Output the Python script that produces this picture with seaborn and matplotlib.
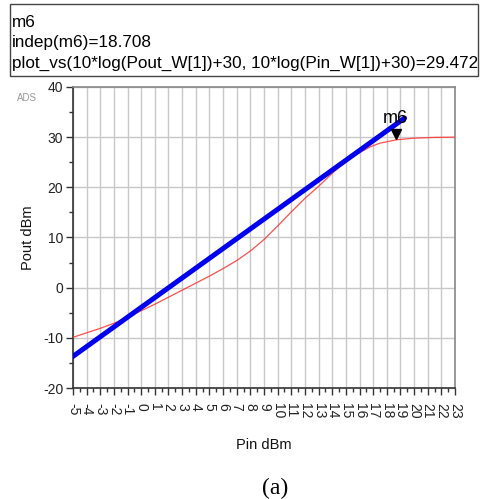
import numpy as np
import pandas as pd
import seaborn as sns
import matplotlib
matplotlib.use("Agg")
import matplotlib.pyplot as plt
from matplotlib.ticker import MultipleLocator
from matplotlib.transforms import offset_copy

# simulated output power (red)
pin_sim = [-5, -4, -3, -2, -1, 0, 1, 2, 3, 4, 5, 6, 7, 8, 9, 10, 11, 12, 13, 14,
           14.5, 15.0, 15.8, 16.8, 17.5, 18.7, 20.0, 21.5, 23.0]
pout_sim = [-9.9, -9.0, -8.1, -7.1, -5.9, -4.6, -3.3, -1.9, -0.5, 0.9, 2.3, 3.8, 5.4,
            7.3, 9.6, 12.3, 15.1, 17.8, 20.2, 22.8,
            24.0, 25.1, 26.6, 28.1, 28.8, 29.47, 29.8, 29.95, 30.0]

# linear gain reference line (blue)
pin_lin = [-5.0, 19.3]
pout_lin = [-13.7, 33.8]

marker_x = 18.708
marker_y = 29.472

x_ticks = list(range(-5, 24))
y_ticks = [-20, -10, 0, 10, 20, 30, 40]

sns.set_theme(style="white")
plt.rcParams["font.family"] = ["Liberation Sans", "DejaVu Sans"]

fig = plt.figure(figsize=(4.8, 4.99), dpi=100)
ax = fig.add_axes([0.152, 0.2224, 0.796, 0.6033])

df_sim = pd.DataFrame({"pin": pin_sim, "pout": pout_sim})
df_lin = pd.DataFrame({"pin": pin_lin, "pout": pout_lin})

sns.lineplot(data=df_sim, x="pin", y="pout", color="#ff3030", linewidth=0.9,
             alpha=0.85, ax=ax, sort=False, zorder=3)
sns.lineplot(data=df_lin, x="pin", y="pout", color="#0000ee", linewidth=3.6,
             ax=ax, sort=False, zorder=4)

# marker m6
tri = offset_copy(ax.transData, fig=fig, x=0, y=4, units="points")
ax.plot([marker_x], [marker_y], marker="v", color="black", markersize=7,
        transform=tri, zorder=5, clip_on=False)
ax.annotate("m6", (marker_x, marker_y), xytext=(-0.5, 9), textcoords="offset points",
            ha="center", va="bottom", fontsize=13, color="black", zorder=6)

ax.set_xlim(-5, 23)
ax.set_ylim(-20, 40)
ax.set_xticks(x_ticks)
ax.set_xticklabels([str(v) for v in x_ticks], rotation=270, fontsize=10, color="#222222")
ax.xaxis.set_minor_locator(MultipleLocator(0.5))
ax.set_yticks(y_ticks)
ax.set_yticklabels([str(v) for v in y_ticks], fontsize=10, color="#222222")
ax.yaxis.set_minor_locator(MultipleLocator(5))

ax.tick_params(axis="both", which="major", direction="out", length=5, width=1,
               color="#333333", pad=2, left=True, bottom=True)
ax.tick_params(axis="x", which="major", pad=6)
ax.tick_params(axis="both", which="minor", direction="out", length=3, width=1,
               color="#333333", left=True, bottom=True)

ax.grid(True, which="major", color="#c8c8c8", linewidth=1.0, zorder=0)
ax.set_axisbelow(True)

for side in ["left", "bottom"]:
    ax.spines[side].set_color("#333333")
    ax.spines[side].set_linewidth(1.2)
for side in ["top", "right"]:
    ax.spines[side].set_color("#888888")
    ax.spines[side].set_linewidth(1.2)

ax.set_xlabel("Pin dBm", fontsize=10.5, color="#111111", labelpad=14)
ax.set_ylabel("Pout dBm", fontsize=10.5, color="#111111", labelpad=6)

fig.text(0.036, 0.803, "ADS", fontsize=7, color="#999999", ha="left", va="center")

# marker readout box
box = plt.Rectangle((0.02, 0.848), 0.975, 0.144, transform=fig.transFigure,
                    fill=False, edgecolor="#444444", linewidth=1.0)
fig.add_artist(box)
readout = ["m6", "indep(m6)=18.708",
           "plot_vs(10*log(Pout_W[1])+30, 10*log(Pin_W[1])+30)=29.472"]
baselines = [0.946, 0.906, 0.864]
for line, yb in zip(readout, baselines):
    fig.text(0.025, yb, line, fontsize=12.3, color="black",
             ha="left", va="baseline")

fig.text(0.573, 0.022, "(a)", fontsize=17, color="black", ha="center", va="center",
         family=["Liberation Serif", "DejaVu Serif"])

fig.savefig("out.png", dpi=100, facecolor="white")
